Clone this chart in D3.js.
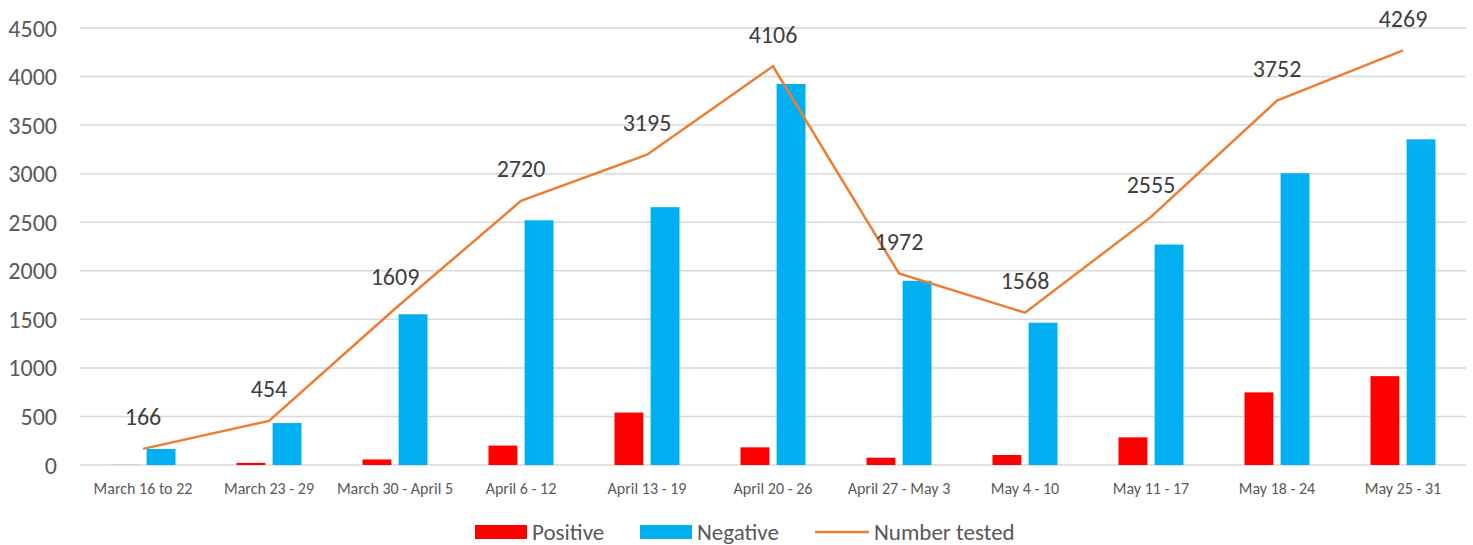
<!DOCTYPE html>
<html>
<head>
<meta charset="utf-8">
<script src="https://cdn.jsdelivr.net/npm/d3@7"></script>
<style>
  body { margin: 0; background: #fff; }
  svg { display: block; font-family: Carlito, Lato, "Liberation Sans", sans-serif; }
</style>
</head>
<body>
<svg width="1473" height="545"></svg>
<script>
const weeks = [
  "March 16 to 22", "March 23 - 29", "March 30 - April 5", "April 6 - 12",
  "April 13 - 19", "April 20 - 26", "April 27 - May 3", "May 4 - 10",
  "May 11 - 17", "May 18 - 24", "May 25 - 31",
];
const positive = [1, 22, 57, 200, 540, 182, 75, 103, 285, 748, 915];
const negative = [165, 432, 1552, 2520, 2655, 3924, 1897, 1465, 2270, 3004, 3354];
const tested = [166, 454, 1609, 2720, 3195, 4106, 1972, 1568, 2555, 3752, 4269];
const yTicks = [0, 500, 1000, 1500, 2000, 2500, 3000, 3500, 4000, 4500];
const seriesNames = ["Positive", "Negative", "Number tested"];
const colors = { Positive: "#FF0000", Negative: "#00B0F0", "Number tested": "#ED7D31" };

const svg = d3.select("svg");
const plotLeft = 80, plotRight = 1466, plotTop = 28, plotBottom = 465;

const x = d3.scaleBand().domain(weeks).range([plotLeft, plotRight]);
const xSub = d3.scaleBand().domain(["Positive", "Negative"]).range([-32.5, 32.5]).paddingInner(0.2);
const y = d3.scaleLinear().domain([0, 4500]).range([plotBottom, plotTop]);
const cx = (w) => x(w) + x.bandwidth() / 2;

// gridlines
svg.append("g")
  .selectAll("line")
  .data(yTicks)
  .join("line")
  .attr("x1", plotLeft)
  .attr("x2", plotRight)
  .attr("y1", (d) => y(d))
  .attr("y2", (d) => y(d))
  .attr("stroke", "#D9D9D9")
  .attr("stroke-width", 1.5);

// y tick labels
svg.append("g")
  .selectAll("text")
  .data(yTicks)
  .join("text")
  .attr("x", 57)
  .attr("y", (d) => y(d))
  .attr("text-anchor", "end")
  .attr("dominant-baseline", "central")
  .attr("font-size", 24)
  .attr("fill", "#595959")
  .text((d) => d);

// x labels
svg.append("g")
  .selectAll("text")
  .data(weeks)
  .join("text")
  .attr("x", (d) => cx(d))
  .attr("y", 488)
  .attr("text-anchor", "middle")
  .attr("dominant-baseline", "central")
  .attr("font-size", 16)
  .attr("fill", "#595959")
  .text((d) => d);

// bars
const barData = weeks.flatMap((w, i) => [
  { week: w, key: "Positive", value: positive[i] },
  { week: w, key: "Negative", value: negative[i] },
]);
svg.append("g")
  .selectAll("rect")
  .data(barData)
  .join("rect")
  .attr("x", (d) => cx(d.week) + xSub(d.key))
  .attr("width", xSub.bandwidth())
  .attr("y", (d) => y(d.value))
  .attr("height", (d) => y(0) - y(d.value))
  .attr("fill", (d) => colors[d.key]);

// line
const line = d3.line()
  .x((d, i) => cx(weeks[i]))
  .y((d) => y(d));
svg.append("path")
  .attr("d", line(tested))
  .attr("fill", "none")
  .attr("stroke", colors["Number tested"])
  .attr("stroke-width", 2.5)
  .attr("stroke-linejoin", "miter");

// line labels
svg.append("g")
  .selectAll("text")
  .data(tested)
  .join("text")
  .attr("x", (d, i) => cx(weeks[i]))
  .attr("y", (d) => y(d) - 32)
  .attr("text-anchor", "middle")
  .attr("dominant-baseline", "central")
  .attr("font-size", 24)
  .attr("fill", "#404040")
  .text((d) => d);

// legend
const legend = svg.append("g");
const legendPos = [475, 640, 815];
seriesNames.forEach((name, i) => {
  const g = legend.append("g").attr("transform", `translate(${legendPos[i]},532)`);
  if (name === "Number tested") {
    g.append("line")
      .attr("x1", 0).attr("x2", 54)
      .attr("stroke", colors[name])
      .attr("stroke-width", 2.5);
  } else {
    g.append("rect")
      .attr("x", 0).attr("y", -7)
      .attr("width", 52).attr("height", 14)
      .attr("fill", colors[name]);
  }
  g.append("text")
    .attr("x", i === 2 ? 59 : 57)
    .attr("dominant-baseline", "central")
    .attr("font-size", 23)
    .attr("fill", "#595959")
    .text(name);
});
</script>
</body>
</html>
